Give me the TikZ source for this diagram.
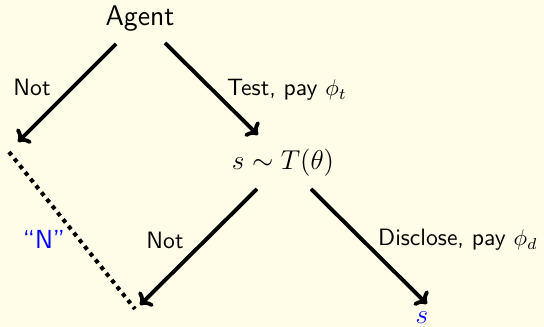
\documentclass[tikz,border=0pt]{standalone}
\usepackage{tikz}
\usetikzlibrary{arrows.meta}
\definecolor{bgcream}{RGB}{255,252,232}
\begin{document}
\begin{tikzpicture}[x=0.44pt,y=-0.44pt,
  arr/.style={line width=1.7pt,-{To[length=4.5pt,width=9pt]}},
  dotline/.style={line width=1.8pt,dotted},
  lbl/.style={font=\sffamily\fontsize{10.4}{12}\selectfont,inner sep=0pt},
  biglbl/.style={font=\sffamily\fontsize{12.5}{15}\selectfont,inner sep=0pt},
  leafs/.style={text=blue,inner sep=0pt,font=\large}]
\fill[bgcream] (0,0) rectangle (544,327);
\useasboundingbox (0,0) rectangle (544,327);
\node[biglbl] (agent) at (140,19) {Agent};
\node[inner sep=0pt,font=\fontsize{12.5}{15}\selectfont] (sig) at (283,163) {$s\sim T(\theta)$};
\node[leafs] (sleaf) at (422,318) {$s$};
\coordinate (agentL) at (116,44);
\coordinate (agentR) at (165,43);
\coordinate (notL) at (18,142);
\coordinate (testEnd) at (258,135);
\coordinate (sigL) at (257,189);
\coordinate (sigR) at (311,189);
\coordinate (notM) at (140,305);
\coordinate (discEnd) at (427,304);
\coordinate (dotA) at (9,152);
\coordinate (dotB) at (135,309);
\draw[arr] (agentL) -- (notL);
\draw[arr] (agentR) -- (testEnd);
\draw[arr] (sigL) -- (notM);
\draw[arr] (sigR) -- (discEnd);
\draw[dotline] (dotA) -- (dotB);
\node[lbl] (l1) at (32,87) {Not};
\node[lbl] (l2) at (287,90) {Test, pay $\phi_t$};
\node[lbl] (l3) at (165,240) {Not};
\node[lbl] (l4) at (458,240) {Disclose, pay $\phi_d$};
\node[lbl,text=blue,font=\sffamily\fontsize{11.5}{13}\selectfont] (ln) at (44,239) {``N''};
\end{tikzpicture}
\end{document}
